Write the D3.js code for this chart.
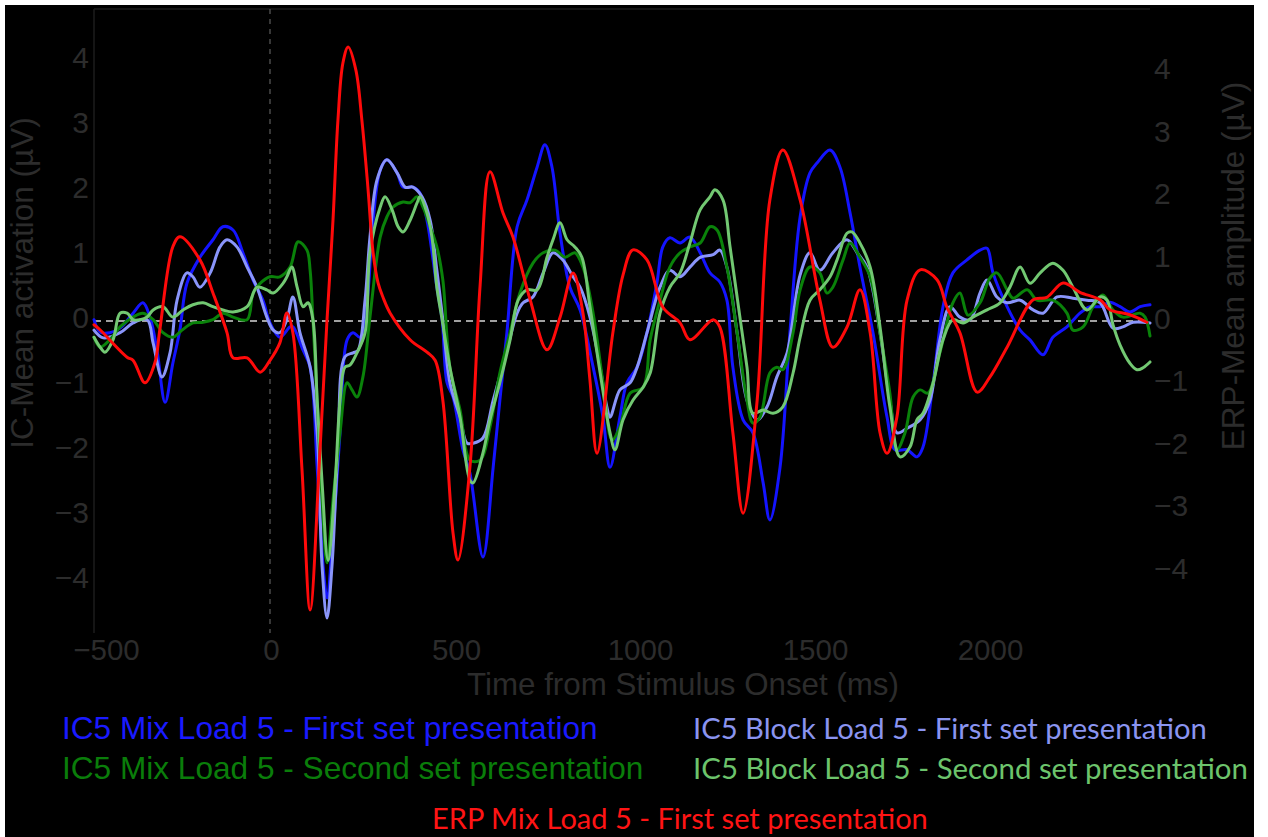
<!DOCTYPE html>
<html>
<head>
<meta charset="utf-8">
<script src="https://cdn.jsdelivr.net/npm/d3@7"></script>
<style>
  html, body { margin: 0; padding: 0; background: #ffffff; }
  svg { display: block; }
</style>
</head>
<body>
<svg id="chart" width="1268" height="837"></svg>
<script>
// ---- data: time (ms) vs amplitude (µV) ----
const timeTicks = [-500, 0, 500, 1000, 1500, 2000];
const icTicks = [-4, -3, -2, -1, 0, 1, 2, 3, 4];
const erpTicks = [-4, -3, -2, -1, 0, 1, 2, 3, 4];

const icMixFirst = [
  [-500,0.02],[-483,-0.17],[-455,-0.18],[-426,-0.11],[-389,0.12],[-361,0.28],[-341,0.06],[-321,-0.45],
  [-298,-1.25],[-276,-0.65],[-256,-0.14],[-236,0.58],[-199,0.98],[-162,1.25],[-134,1.45],[-105,1.40],
  [-77,1.05],[-48,0.63],[-20,0.32],[0,-0.03],[28,-0.25],[57,-0.09],[65,-0.09],[94,-0.45],[114,-0.71],
  [134,-2.25],[151,-3.78],[162,-4.26],[179,-3.26],[199,-1.72],[219,-0.29],[236,-0.18],[256,-0.25],
  [276,0.32],[293,1.55],[313,2.32],[332,2.48],[361,2.28],[378,2.06],[406,2.06],[426,1.97],[446,1.55],
  [474,0.52],[489,0.02],[503,-0.95],[520,-1.17],[548,-1.98],[568,-2.34],[605,-3.63],[634,-2.25],
  [653,-1.22],[673,-0.18],[702,1.45],[730,1.86],[759,2.37],[781,2.71],[801,2.37],[824,1.35],[852,0.52],
  [881,0.17],[918,-0.71],[946,-1.48],[966,-2.25],[994,-1.48],[1014,-0.95],[1043,-0.71],[1071,-0.18],
  [1099,0.58],[1116,1.14],[1136,1.28],[1165,1.20],[1193,1.29],[1222,1.05],[1250,0.74],[1278,0.60],
  [1298,0.32],[1315,-0.71],[1344,-1.52],[1372,-1.72],[1401,-2.49],[1420,-3.06],[1449,-2.25],[1477,-0.18],
  [1506,1.60],[1534,2.28],[1554,2.43],[1591,2.63],[1619,2.37],[1648,1.66],[1676,0.83],[1713,-0.18],
  [1753,-1.48],[1776,-1.98],[1810,-1.98],[1838,-2.09],[1855,-1.94],[1884,-0.95],[1912,0.22],[1940,0.74],
  [1980,0.94],[2017,1.09],[2037,1.12],[2054,0.74],[2094,0.22],[2131,-0.14],[2159,-0.29],[2196,-0.52],
  [2224,-0.25],[2264,-0.09],[2301,0.12],[2330,0.22],[2358,0.22],[2386,0.29],[2415,0.22],[2443,0.14],
  [2472,0.22],[2500,0.25]
];

const icBlockFirst = [
  [-500,-0.14],[-474,-0.26],[-426,-0.18],[-389,-0.03],[-349,0.02],[-332,-0.34],[-307,-0.86],[-284,-0.49],
  [-264,0.32],[-236,0.74],[-219,0.68],[-199,0.52],[-170,0.74],[-142,1.14],[-122,1.25],[-94,1.14],
  [-65,0.83],[-37,0.52],[-9,0.06],[9,-0.14],[28,-0.18],[48,0.02],[65,0.37],[85,-0.18],[114,-0.71],
  [134,-1.72],[148,-3.78],[162,-4.57],[176,-3.78],[193,-1.98],[213,-0.55],[236,-0.49],[250,-0.45],
  [270,0.32],[284,1.29],[304,2.17],[332,2.48],[361,2.28],[384,2.06],[406,2.06],[432,1.91],[455,1.55],
  [474,0.78],[491,0.02],[511,-0.95],[540,-1.48],[560,-1.88],[577,-1.88],[605,-1.80],[634,-1.22],
  [673,-0.45],[702,0.12],[719,0.28],[747,0.37],[776,0.74],[804,1.05],[832,0.94],[861,0.68],[881,0.52],
  [909,0.06],[938,-0.71],[957,-1.32],[966,-1.48],[994,-1.06],[1023,-0.95],[1043,-0.71],[1071,-0.18],
  [1108,0.52],[1136,0.78],[1165,0.68],[1193,0.83],[1222,0.98],[1259,1.02],[1278,1.09],[1298,0.83],
  [1327,-0.18],[1355,-1.22],[1384,-1.52],[1412,-1.32],[1440,-0.86],[1469,-0.49],[1506,0.71],[1534,1.05],
  [1562,0.78],[1599,1.05],[1639,1.25],[1668,1.05],[1696,0.83],[1733,-0.18],[1761,-1.22],[1781,-1.72],
  [1810,-1.65],[1847,-1.52],[1875,-1.22],[1903,-0.29],[1932,0.22],[1960,0.06],[1989,0.02],[2017,0.43],
  [2037,0.63],[2065,0.37],[2094,0.28],[2131,0.32],[2168,0.17],[2196,0.12],[2236,0.37],[2281,0.35],
  [2321,0.32],[2358,0.28],[2395,-0.11],[2423,-0.09],[2452,-0.02],[2500,-0.03]
];

const icMixSecond = [
  [-500,-0.25],[-483,-0.40],[-455,-0.29],[-426,-0.09],[-389,0.06],[-361,0.12],[-332,0.02],[-304,-0.18],
  [-276,-0.25],[-250,-0.14],[-219,-0.03],[-190,-0.02],[-162,0.02],[-134,0.12],[-105,0.06],[-65,0.02],
  [-48,0.43],[-28,0.58],[0,0.68],[28,0.68],[57,0.83],[80,1.22],[105,1.09],[114,0.78],[122,0.02],
  [134,-1.22],[148,-2.75],[162,-3.72],[179,-2.75],[199,-1.72],[219,-0.95],[233,-1.06],[247,-1.17],
  [264,-0.86],[284,0.06],[313,1.29],[332,1.60],[349,1.75],[378,1.83],[398,1.82],[418,1.91],[435,1.75],
  [455,1.45],[474,1.14],[491,0.63],[511,-0.71],[540,-1.37],[568,-2.14],[597,-2.14],[625,-1.63],
  [653,-0.80],[682,-0.18],[710,0.43],[747,0.89],[776,1.05],[810,1.09],[838,0.98],[866,1.05],[889,0.83],
  [918,0.12],[946,-0.95],[972,-1.83],[994,-1.63],[1023,-1.11],[1060,-1.02],[1080,-0.29],[1108,0.32],
  [1136,0.83],[1165,1.05],[1193,1.14],[1222,1.20],[1250,1.45],[1270,1.40],[1298,0.83],[1327,-0.18],
  [1355,-1.22],[1372,-1.57],[1392,-1.48],[1420,-0.80],[1440,-0.71],[1457,-0.75],[1486,-0.18],[1506,0.48],
  [1534,0.83],[1562,0.74],[1582,0.43],[1599,0.52],[1628,0.94],[1648,1.20],[1676,0.98],[1705,0.68],
  [1733,-0.18],[1761,-1.11],[1781,-1.98],[1804,-1.72],[1827,-1.17],[1847,-1.06],[1869,-1.11],[1903,-0.49],
  [1940,0.28],[1960,0.43],[1983,0.09],[2017,0.28],[2045,0.66],[2065,0.74],[2094,0.48],[2111,0.35],
  [2151,0.48],[2179,0.32],[2224,0.32],[2264,0.12],[2281,-0.14],[2310,-0.09],[2338,0.22],[2366,0.40],
  [2395,0.17],[2423,0.06],[2472,0.12],[2486,0.06],[2500,-0.23]
];

const icBlockSecond = [
  [-500,-0.25],[-483,-0.40],[-469,-0.48],[-446,-0.29],[-426,0.12],[-406,0.12],[-389,0.02],[-369,0.02],
  [-349,0.06],[-332,0.17],[-304,0.22],[-276,0.06],[-247,0.17],[-219,0.25],[-190,0.28],[-162,0.22],
  [-134,0.17],[-105,0.14],[-65,0.22],[-37,0.52],[-9,0.48],[9,0.43],[37,0.58],[48,0.68],[62,0.83],
  [77,0.52],[94,0.22],[108,0.28],[122,0.02],[134,-1.22],[148,-2.49],[165,-3.68],[185,-2.49],[199,-1.22],
  [213,-0.71],[227,-0.68],[247,-0.49],[270,-0.18],[284,1.05],[313,1.75],[327,1.91],[347,1.71],[364,1.45],
  [378,1.37],[398,1.55],[418,1.82],[426,1.91],[446,1.66],[460,1.29],[474,0.52],[489,0.02],[511,-0.71],
  [540,-1.48],[568,-2.45],[577,-2.49],[605,-2.03],[625,-1.52],[653,-0.95],[682,-0.29],[705,0.32],
  [730,0.48],[759,0.48],[787,0.98],[804,1.25],[824,1.51],[844,1.25],[866,1.14],[886,0.98],[909,0.22],
  [938,-0.80],[966,-1.72],[980,-1.98],[1003,-1.52],[1031,-1.22],[1060,-1.02],[1080,-0.80],[1108,0.12],
  [1136,0.52],[1165,0.74],[1193,1.20],[1222,1.71],[1250,1.91],[1264,2.02],[1287,1.86],[1307,1.14],
  [1335,0.06],[1355,-0.71],[1372,-1.42],[1401,-1.37],[1429,-1.42],[1457,-1.32],[1486,-0.80],[1506,-0.25],
  [1534,0.32],[1562,0.48],[1591,0.68],[1611,0.94],[1639,1.35],[1653,1.37],[1676,1.20],[1705,0.83],
  [1733,-0.09],[1761,-1.32],[1790,-2.09],[1818,-1.94],[1838,-1.52],[1855,-1.42],[1884,-0.95],[1912,-0.29],
  [1940,0.02],[1969,-0.03],[1997,0.06],[2037,0.17],[2074,0.28],[2102,0.52],[2131,0.83],[2159,0.58],
  [2188,0.74],[2224,0.89],[2253,0.78],[2281,0.52],[2321,0.17],[2358,0.37],[2378,0.32],[2395,-0.06],
  [2415,-0.37],[2443,-0.65],[2463,-0.75],[2480,-0.72],[2500,-0.63]
];

const erpMixFirst = [
  [-500,-0.06],[-483,-0.14],[-406,-0.58],[-389,-0.63],[-355,-0.99],[-327,-0.67],[-313,-0.14],[-276,1.19],
  [-256,1.35],[-199,0.98],[-162,0.45],[-122,-0.19],[-105,-0.59],[-65,-0.59],[-28,-0.82],[0,-0.63],
  [28,-0.35],[48,0.13],[65,-0.19],[91,-2.39],[114,-4.63],[142,-2.07],[162,0.02],[179,1.62],[193,3.22],
  [207,4.13],[222,4.39],[244,4.02],[261,3.22],[278,2.15],[293,1.09],[307,0.61],[321,0.38],[341,0.13],
  [398,-0.30],[446,-0.50],[469,-0.63],[491,-1.27],[520,-3.40],
  [534,-3.83],[568,-2.34],[597,0.58],[625,2.39],[662,1.73],[690,1.35],[739,0.34],[787,-0.46],[824,0.06],
  [861,0.77],[889,0.13],[909,-0.95],[929,-2.12],[974,-0.19],[1003,0.74],[1031,1.14],[1071,0.98],
  [1116,0.22],[1165,-0.03],[1193,-0.30],[1259,0.02],[1278,-0.10],[1315,-1.79],[1344,-3.08],[1384,-1.27],
  [1420,1.94],[1457,2.74],[1506,1.94],[1562,0.34],[1599,-0.42],[1639,-0.10],[1676,0.50],[1705,-0.19],
  [1733,-1.79],[1753,-2.12],[1781,-1.54],[1810,0.34],[1847,0.82],[1895,0.66],[1923,0.22],[1960,-0.19],
  [2009,-1.14],[2045,-0.90],[2094,-0.42],[2168,0.34],[2207,0.38],[2253,0.61],[2301,0.46],[2358,0.34],
  [2386,0.18],[2443,0.10],[2491,-0.02]
];

const legendLabels = [
  "IC5 Mix Load 5 - First set presentation",
  "IC5 Mix Load 5 - Second set presentation",
  "IC5 Block Load 5 - First set presentation",
  "IC5 Block Load 5 - Second set presentation",
  "ERP Mix Load 5 - First set presentation"
];

const xTitle = "Time from Stimulus Onset (ms)";
const yLeftTitle = "IC-Mean activation (µV)";
const yRightTitle = "ERP-Mean amplitude (µV)";

// ---- layout ----
const W = 1268, H = 837;
const plot = { left: 94, right: 1150, top: 9, bottom: 633 };
const axisGrey = "#2c2c2c";
const frameGrey = "#1c1c1c";

const svg = d3.select("#chart");

// black canvas with a thin white border on three sides
svg.append("rect").attr("x", 0).attr("y", 0).attr("width", W).attr("height", H).attr("fill", "#ffffff");
svg.append("rect").attr("x", 5).attr("y", 5).attr("width", 1249).attr("height", H - 5).attr("fill", "#000000");

const x = d3.scaleLinear().domain([-500, 2500]).range([plot.left, plot.right]);
const yIC = d3.scaleLinear().domain([-4.8, 4.8]).range([plot.bottom, plot.top]);
const yERP = d3.scaleLinear().domain([-5, 5]).range([plot.bottom, plot.top]);

// frame: left spine and top edge
svg.append("line").attr("x1", plot.left).attr("x2", plot.left)
  .attr("y1", plot.top).attr("y2", plot.bottom)
  .attr("stroke", frameGrey).attr("stroke-width", 1.5);
svg.append("line").attr("x1", plot.left).attr("x2", plot.right)
  .attr("y1", plot.top).attr("y2", plot.top)
  .attr("stroke", frameGrey).attr("stroke-width", 1.5);

// stimulus onset marker and zero baseline
svg.append("line").attr("x1", x(0)).attr("x2", x(0))
  .attr("y1", plot.top).attr("y2", plot.bottom)
  .attr("stroke", "#4a4a4a").attr("stroke-width", 1.5).attr("stroke-dasharray", "5,5");
svg.append("line").attr("x1", plot.left).attr("x2", plot.right)
  .attr("y1", yIC(0)).attr("y2", yIC(0))
  .attr("stroke", "#a0a0a0").attr("stroke-width", 2).attr("stroke-dasharray", "7,5");

// axes
const tickFont = "Liberation Sans, Arial, sans-serif";
function styleAxis(g, size) {
  g.select(".domain").remove();
  g.selectAll(".tick line").remove();
  g.selectAll("text").attr("fill", axisGrey).attr("font-size", size).attr("font-family", tickFont);
}

svg.append("g").attr("transform", `translate(${plot.left},0)`)
  .call(d3.axisLeft(yIC).tickValues(icTicks).tickSize(0).tickPadding(5))
  .call(styleAxis, 30)
  .selectAll("text").attr("dy", "0.22em");

svg.append("g").attr("transform", `translate(${plot.right},0)`)
  .call(d3.axisRight(yERP).tickValues(erpTicks).tickSize(0).tickPadding(4))
  .call(styleAxis, 30)
  .selectAll("text").attr("dy", "0.25em");

// tick labels sit slightly right of their tick
const xLabelShift = { "-500": 12, "0": 1, "500": 10, "1000": 18, "1500": 17, "2000": 16 };
svg.append("g").attr("transform", `translate(0,${plot.bottom})`)
  .call(d3.axisBottom(x).tickValues(timeTicks).tickFormat(d3.format("d")).tickSize(0).tickPadding(6))
  .call(styleAxis, 29.5)
  .selectAll("text").attr("dx", d => xLabelShift[String(d)] || 0);

// axis titles
svg.append("text").attr("x", 683).attr("y", 695).attr("text-anchor", "middle")
  .attr("font-family", tickFont).attr("font-size", 31.3).attr("fill", axisGrey).text(xTitle);
svg.append("text").attr("transform", "translate(33,283) rotate(-90)").attr("text-anchor", "middle")
  .attr("font-family", tickFont).attr("font-size", 31.5).attr("fill", axisGrey).text(yLeftTitle);
svg.append("text").attr("transform", "translate(1244,266) rotate(-90)").attr("text-anchor", "middle")
  .attr("font-family", tickFont).attr("font-size", 31.5).attr("fill", axisGrey).text(yRightTitle);

// waveforms
const series = [
  { data: icMixFirst,    y: yIC,  color: "#1414ff" },
  { data: icBlockFirst,  y: yIC,  color: "#8a95fa" },
  { data: icMixSecond,   y: yIC,  color: "#0a820a" },
  { data: icBlockSecond, y: yIC,  color: "#72c872" },
  { data: erpMixFirst,   y: yERP, color: "#ff0a0a" }
];

series.forEach(s => {
  const line = d3.line()
    .x(d => x(d[0]))
    .y(d => s.y(d[1]))
    .curve(d3.curveCatmullRom.alpha(0.5));
  svg.append("path").datum(s.data)
    .attr("d", line)
    .attr("fill", "none")
    .attr("stroke", s.color)
    .attr("stroke-width", 3)
    .attr("stroke-linejoin", "round")
    .attr("stroke-linecap", "round");
});

// legend: the right-hand and bottom entries use a humanist face, sized to their span
const humanist = "Lato, Open Sans, sans-serif";
const legendItems = [
  { label: legendLabels[0], color: "#1a1aff", x: 62,  y: 739, font: tickFont, size: 31.6 },
  { label: legendLabels[1], color: "#0a7d0a", x: 62,  y: 779, font: tickFont, size: 31.6 },
  { label: legendLabels[2], color: "#8a94f0", x: 693, y: 739, font: humanist, size: 31, span: 514 },
  { label: legendLabels[3], color: "#6cc46c", x: 693, y: 779, font: humanist, size: 31, span: 555 },
  { label: legendLabels[4], color: "#ff1414", x: 432, y: 829, font: humanist, size: 31, span: 496 }
];

legendItems.forEach(it => {
  const t = svg.append("text")
    .attr("x", it.x).attr("y", it.y)
    .attr("font-family", it.font).attr("font-size", it.size)
    .attr("fill", it.color)
    .text(it.label);
  if (it.span) {
    const natural = t.node().getComputedTextLength();
    t.attr("font-size", it.size * it.span / natural);
  }
});
</script>
</body>
</html>
